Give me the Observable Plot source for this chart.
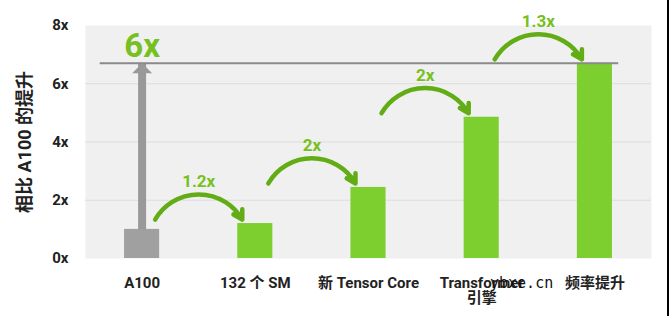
<!DOCTYPE html>
<html>
<head>
<meta charset="utf-8">
<script src="https://cdn.jsdelivr.net/npm/d3@7"></script>
<script src="https://cdn.jsdelivr.net/npm/@observablehq/plot@0.6"></script>
<style>
  html, body { margin: 0; padding: 0; background: #fff; }
  #wrap { position: relative; width: 670px; height: 316px; overflow: hidden; }
  #wm { position: absolute; left: 490px; top: 276px; font: 15px "DejaVu Sans Mono", monospace; color: #111; line-height: 1; }
  #edge { position: absolute; left: 667px; top: 0; width: 2px; height: 316px; background: #000; }
</style>
</head>
<body>
<div id="wrap"><div id="chart"></div><div id="wm">ybxe.cn</div><div id="edge"></div></div>
<script>
// ---- data ----
const categories = ["A100", "132 个 SM", "新 Tensor Core", "Transformer\n引擎", "频率提升"];
const values = [1.0, 1.2, 2.44, 4.85, 6.7];
const stepLabels = ["1.2x", "2x", "2x", "1.3x"];
const totalLabel = "6x";
const yTicks = [0, 2, 4, 6, 8];
const yLabel = "相比 A100 的提升";

// ---- derived tables ----
const bars = categories.map((c, i) => ({i, name: c, value: values[i]}));
const steps = stepLabels.map((t, i) => ({from: i, to: i + 1, value: values[i + 1], label: t}));
const topValue = values[values.length - 1];

const green = "#7dcf2f";
const arcGreen = "#62ad15";
const labelGreen = "#76c020";
const gray = "#a0a0a0";
const font = "Roboto, 'Noto Sans CJK SC', sans-serif";

const BAR_HALF = 0.155;   // half bar width, in band steps
const ARC_IN = 0.115;     // arc end inset, in band steps

// flat triangle arrowhead (tip at origin, pointing up)
const flatTriangle = {
  draw(ctx, size) {
    const r = Math.sqrt(size / Math.PI);
    ctx.moveTo(0, 0);
    ctx.lineTo(r, r);
    ctx.lineTo(-r, r);
    ctx.closePath();
  }
};

const chart = Plot.plot({
  width: 670,
  height: 316,
  marginLeft: 85,
  marginRight: 19,
  marginTop: 25,
  marginBottom: 58,
  style: {fontFamily: font, color: "#222", background: "transparent"},
  x: {type: "linear", domain: [-0.5, categories.length - 0.5]},
  y: {domain: [0, 8]},
  marks: [
    Plot.frame({fill: "#f0f0f0", stroke: "none"}),
    Plot.gridY(yTicks.filter(d => d > 0 && d < 8), {stroke: "#dddddd", strokeOpacity: 1}),
    Plot.axisY({ticks: yTicks, tickFormat: d => d + "x", tickSize: 0, tickPadding: 17, fontSize: 15, fontWeight: "bold", label: null}),
    Plot.axisX({ticks: d3.range(categories.length), tickFormat: i => categories[i], tickSize: 0, tickPadding: 19, fontSize: 15, fontWeight: "bold", label: null}),
    Plot.text([yLabel], {text: d => d, frameAnchor: "left", textAnchor: "middle", rotate: -90, dx: -60, fontSize: 18, fontWeight: "bold", fill: "#222"}),
    Plot.rectY(bars, {x1: d => d.i - BAR_HALF, x2: d => d.i + BAR_HALF, y: "value", fill: d => d.i === 0 ? gray : green}),
    Plot.ruleX([bars[0]], {x: "i", y1: "value", y2: topValue, stroke: "#999", strokeWidth: 8}),
    Plot.ruleY([topValue], {x1: -0.37, x2: categories.length - 1 + 0.21, stroke: "#8a8a8a", strokeWidth: 2}),
    Plot.dot([bars[0]], {x: "i", y: topValue, symbol: flatTriangle, r: 10, fill: "#999", stroke: "none"}),
    Plot.text([bars[0]], {x: "i", y: topValue, text: () => totalLabel, dy: -17, fontSize: 33, fontWeight: "bold", fill: labelGreen}),
    Plot.arrow(steps, {x1: d => d.from + ARC_IN, x2: d => d.to - ARC_IN, y1: "value", y2: "value", dy: -4, bend: 60, stroke: arcGreen, strokeWidth: 4.5, headLength: 3.4}),
    Plot.text(steps, {x: d => (d.from + d.to) / 2, y: "value", text: "label", dy: -42, fontSize: 17, fontWeight: "bold", fill: labelGreen})
  ]
});
document.getElementById("chart").appendChild(chart);
</script>
</body>
</html>
